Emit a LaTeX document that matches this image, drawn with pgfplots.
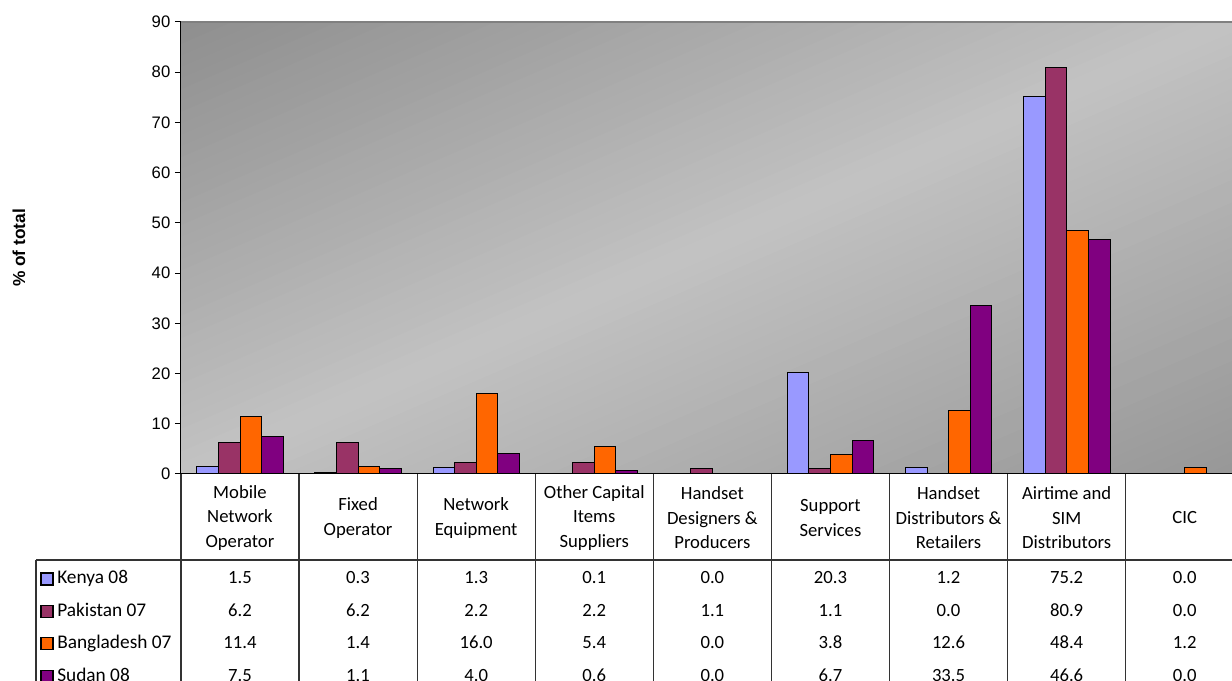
\documentclass[border=0pt]{standalone}
\usepackage{fontspec}
\setmainfont{Carlito}
\newfontfamily\arial{Liberation Sans}
\usepackage{pgfplots}
\usepackage{pgfplotstable}
\pgfplotsset{compat=1.18}
\definecolor{ken}{HTML}{9999FF}
\definecolor{pak}{HTML}{993366}
\definecolor{ban}{HTML}{FF6600}
\definecolor{sud}{HTML}{800080}
\definecolor{bgdark}{HTML}{8E8E8E}
\definecolor{bgmid}{HTML}{C2C2C2}
\definecolor{bgbot}{HTML}{979797}
\pgfplotstableread{
cat K P B S
0 1.5 6.2 11.4 7.5
1 0.3 6.2 1.4 1.1
2 1.3 2.2 16.0 4.0
3 0.1 2.2 5.4 0.6
4 0.0 1.1 0.0 0.0
5 20.3 1.1 3.8 6.7
6 1.2 0.0 12.6 33.5
7 75.2 80.9 48.4 46.6
8 0.0 0.0 1.2 0.0
}\data
\begin{document}
\begin{tikzpicture}
\begin{scope}
  \clip (0,0) rectangle (788.25pt,339pt);
  \begin{scope}[rotate=23.3]
    \foreach \k in {0,...,79}{
      \pgfmathsetmacro\ta{-312+\k*7.8}
      \pgfmathsetmacro\tb{\ta+8.6}
      \pgfmathsetmacro\tm{\ta+3.9}
      \pgfmathtruncatemacro\p{min(100,abs(\tm)/3.115)}
      \ifdim\tm pt>0pt \colorlet{stripc}{bgdark!\p!bgmid}\else\colorlet{stripc}{bgbot!\p!bgmid}\fi
      \fill[stripc] (-60pt,\ta pt) rectangle (920pt,\tb pt);
    }
  \end{scope}
\end{scope}
\begin{axis}[
  at={(0,0)}, anchor=south west,
  scale only axis, width=788.25pt, height=339pt,
  xmin=-0.5, xmax=8.399, ymin=0, ymax=90,
  ytick={0,10,...,90}, xtick=\empty,
  axis x line*=bottom, axis y line*=left,
  axis line style={-, black, line width=0.75pt},
  tick align=outside, major tick length=4.5pt,
  y tick style={black, line width=0.75pt},
  yticklabel style={font=\arial\fontsize{12.5}{15}\selectfont, /pgf/number format/assume math mode=true},
  ybar, bar width=0.183,
  every axis plot/.append style={draw=black, line width=0.75pt},
]
\addplot[fill=ken, bar shift=-0.2745] table[x=cat,y=K] {\data};
\addplot[fill=pak, bar shift=-0.0915] table[x=cat,y=P] {\data};
\addplot[fill=ban, bar shift=0.0915] table[x=cat,y=B] {\data};
\addplot[fill=sud, bar shift=0.2745] table[x=cat,y=S] {\data};
\end{axis}
\begin{scope}[x=0.75pt,y=-0.75pt,shift={(-135.75pt,355.5pt)}]
  \draw[gray, line width=1.5pt] (181,22) -- (1245,22);
  \draw[black!80, line width=1pt] (36,560) -- (1245,560);
  \draw[black!80, line width=1pt] (36,560) -- (36,690);
  \foreach \k in {0,...,9} \draw[black!80, line width=1pt] ({181+118.1*\k},474) -- ({181+118.1*\k},690);
  \draw[black, line width=0.75pt] (181,474) -- (1245,474);
  \node[rotate=90, font=\arial\bfseries\fontsize{13}{15}\selectfont] at (19,248) {\% of total};
  \foreach[count=\i from 0] \t in {{Mobile\\Network\\Operator},{Fixed\\Operator},{Network\\Equipment},{Other Capital\\Items\\Suppliers},{Handset\\Designers \&\\Producers},{Support\\Services},{Handset\\Distributors \&\\Retailers},{Airtime and\\SIM\\Distributors},{CIC}}
    \node[align=center, font=\fontsize{14}{18.4}\selectfont] at ({239.95+118.1*\i},518) {\t};
  \foreach[count=\r from 0] \n/\c in {Kenya 08/ken, Pakistan 07/pak, Bangladesh 07/ban, Sudan 08/sud}{
    \draw[fill=\c, line width=0.9pt] (41,{573+32.4*\r}) rectangle (53,{585+32.4*\r});
    \node[anchor=base west, inner sep=0pt, font=\fontsize{14.5}{18.4}\selectfont] at (57,{584+32.4*\r}) {\n};
  }
  \foreach \i in {0,...,8}{
    \foreach[count=\r from 0] \c in {K,P,B,S}{
      \pgfplotstablegetelem{\i}{\c}\of\data
      \node[anchor=base, inner sep=0pt, font=\fontsize{14}{18.4}\selectfont] at ({239.95+118.1*\i},{584+32.4*\r}) {\pgfplotsretval};
    }
  }
  \pgfresetboundingbox
  \path[use as bounding box] (0,0) rectangle (1232,681);
\end{scope}
\end{tikzpicture}
\end{document}
